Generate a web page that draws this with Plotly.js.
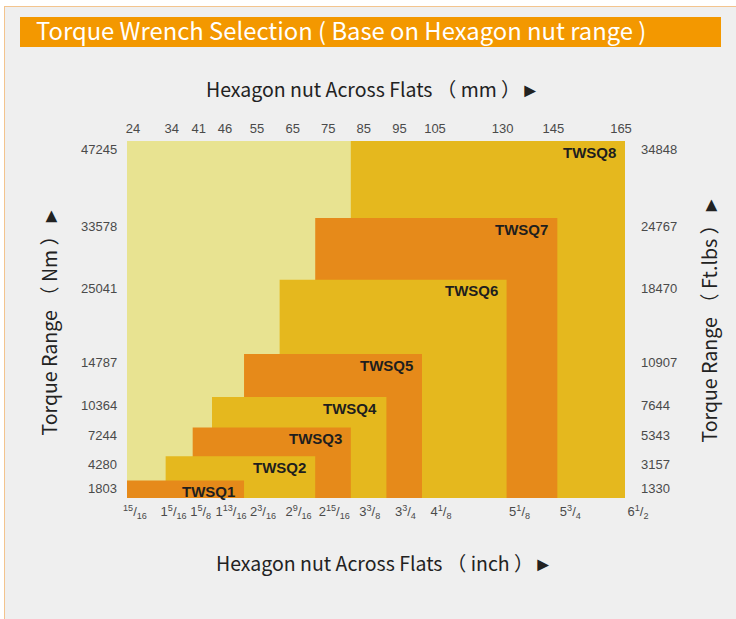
<!DOCTYPE html>
<html><head><meta charset="utf-8">
<script src="https://cdn.plot.ly/plotly-3.0.1.min.js"></script>
<style>
html,body{margin:0;padding:0;background:#ffffff;}
#frame{position:absolute;left:4px;top:6px;width:732px;height:613px;box-sizing:border-box;border-left:1px solid #f3c48e;border-top:1px solid #f3c48e;background:#efefef;}
#bar{position:absolute;left:20px;top:17px;width:701px;height:30px;background:#f39800;}
#chart{position:absolute;left:0;top:0;width:736px;height:619px;}
</style></head><body>
<div id="frame"></div><div id="bar"></div><div id="chart"></div>
<script>
// ---- data ----
const wrenchModels = ['TWSQ1','TWSQ2','TWSQ3','TWSQ4','TWSQ5','TWSQ6','TWSQ7','TWSQ8'];
const hexMinMm = [24, 34, 41, 46, 55, 65, 75, 85];
const hexMaxMm = [55, 75, 85, 95, 105, 130, 145, 165];
const torqueMaxNm = [1803, 4280, 7244, 10364, 14787, 25041, 33578, 47245];
const torqueMaxFtLbs = [1330, 3157, 5343, 7644, 10907, 18470, 24767, 34848];
const mmTickValues = [24, 34, 41, 46, 55, 65, 75, 85, 95, 105, 130, 145, 165];
const mmTickLabels = ['24','34','41','46','55','65','75','85','95','105','130','145','165'];
const inchTickLabels = ['<sup>15</sup>/<sub>16</sub>','1<sup>5</sup>/<sub>16</sub>','1<sup>5</sup>/<sub>8</sub>','1<sup>13</sup>/<sub>16</sub>','2<sup>3</sup>/<sub>16</sub>','2<sup>9</sup>/<sub>16</sub>','2<sup>15</sup>/<sub>16</sub>','3<sup>3</sup>/<sub>8</sub>','3<sup>3</sup>/<sub>4</sub>','4<sup>1</sup>/<sub>8</sub>','5<sup>1</sup>/<sub>8</sub>','5<sup>3</sup>/<sub>4</sub>','6<sup>1</sup>/<sub>2</sub>'];

// ---- styles / layout ----
const colorOrange = '#e68a1a', colorGold = '#e5b81e', colorPale = '#e8e391';
const wrenchColors = [colorOrange, colorGold, colorOrange, colorGold, colorOrange, colorGold, colorOrange, colorGold];
const tickFont = {family: 'Liberation Sans, Arial, sans-serif', size: 13, color: '#4a4a4a'};
const titleFont = {family: 'Noto Sans CJK SC, Noto Sans, sans-serif', size: 19.5, color: '#222'};

// The original drawing uses uneven (piecewise) scales on both axes; each is
// rebuilt here as a broken linear axis made of a few Plotly axis segments.
// x segments: 24-46 mm, 46-105 mm, 105-165 mm (tick indices 0,3,9,12)
const xBreakTick = [0, 3, 9, 12];
const xBounds = [0, 1, 2].map(s => [mmTickValues[xBreakTick[s]], mmTickValues[xBreakTick[s + 1]]]);
const xDomains = [[0, 85/498], [85/498, 295/498], [295/498, 1]];
const xNames = ['x', 'x2', 'x3'], xTopNames = ['x4', 'x5', 'x6'];
const xBottomShift = [8, 19, 13], xTopShift = [6, 13, -4];
const tickSeg = k => (k < xBreakTick[1] ? 0 : (k <= xBreakTick[2] ? 1 : 2));
// y segments: 0-TWSQ5 top, TWSQ5-TWSQ7 top, TWSQ7-TWSQ8 top
const yBreakIdx = [4, 6, 7];
const yBounds = yBreakIdx.map((b, s) => [s === 0 ? 0 : torqueMaxNm[yBreakIdx[s - 1]], torqueMaxNm[b]]);
const yDomains = [[0, 144/357], [144/357, 280/357], [280/357, 1]];
const yNames = ['y', 'y2', 'y3'];
const segOf = (bounds, v) => bounds.findIndex(b => v > b[0] && v <= b[1]);
const axKey = n => (n.length === 1 ? n + 'axis' : n[0] + 'axis' + n.slice(1));

const layout = {
  width: 736, height: 619,
  margin: {l: 127, r: 111, t: 141, b: 121},
  paper_bgcolor: 'rgba(0,0,0,0)', plot_bgcolor: colorPale,
  showlegend: false,
  title: {text: 'Torque Wrench Selection ( Base on Hexagon nut range )',
          font: {family: 'Noto Sans CJK SC, Noto Sans, sans-serif', size: 23.8, color: '#ffffff'},
          xref: 'container', yref: 'container', x: 36/736, xanchor: 'left', y: 1 - 32/619, yanchor: 'middle'},
  shapes: [], annotations: []
};
const plainAxis = {ticks: '', showgrid: false, zeroline: false, showline: false, fixedrange: true};

xNames.forEach((xn, s) => {
  const ks = mmTickValues.map((v, k) => k).filter(k => tickSeg(k) === s);
  layout[axKey(xn)] = Object.assign({}, plainAxis, {domain: xDomains[s], range: xBounds[s], anchor: 'y', side: 'bottom',
    tickmode: 'array', tickvals: ks.map(k => mmTickValues[k]), ticktext: ks.map(k => inchTickLabels[k]), tickangle: 0,
    tickfont: tickFont, ticklabelshift: xBottomShift[s], ticklabelstandoff: 4});
  layout[axKey(xTopNames[s])] = Object.assign({}, plainAxis, {overlaying: xn, range: xBounds[s], anchor: 'y3', side: 'top',
    tickmode: 'array', tickvals: ks.map(k => mmTickValues[k]), ticktext: ks.map(k => mmTickLabels[k]), tickangle: 0,
    tickfont: tickFont, ticklabelshift: xTopShift[s], ticklabelstandoff: 4});
});
yNames.forEach((yn, s) => {
  layout[axKey(yn)] = Object.assign({}, plainAxis, {domain: yDomains[s], range: yBounds[s], anchor: 'x', side: 'left', showticklabels: false});
});

// nested rectangles: widest tier first so smaller tiers sit on top
for (let i = wrenchModels.length - 1; i >= 0; i--) {
  xBounds.forEach((xb, xs) => {
    const x0 = Math.max(hexMinMm[i], xb[0]), x1 = Math.min(hexMaxMm[i], xb[1]);
    if (x1 <= x0) return;
    yBounds.forEach((yb, ys) => {
      const y0 = yb[0], y1 = Math.min(torqueMaxNm[i], yb[1]);
      if (y1 <= y0) return;
      layout.shapes.push({type: 'rect', xref: xNames[xs], yref: yNames[ys], layer: 'below',
        x0: x0, x1: x1, y0: y0, y1: y1, fillcolor: wrenchColors[i], line: {width: 0}});
    });
  });
}
wrenchModels.forEach((name, i) => {
  const xr = xNames[segOf(xBounds, hexMaxMm[i])];
  const yr = yNames[segOf(yBounds, torqueMaxNm[i])];
  layout.annotations.push({text: '<b>' + name + '</b>', x: hexMaxMm[i], y: torqueMaxNm[i],
    xref: xr, yref: yr, xanchor: 'right', yanchor: 'middle', xshift: -7, yshift: -11,
    showarrow: false, font: {family: 'Liberation Sans, Arial, sans-serif', size: 15, color: '#1e1e1e'}});
  // torque labels (Nm left, ft.lbs right), set just under each tier's top edge
  layout.annotations.push({text: String(torqueMaxNm[i]), x: 0, xref: 'paper', y: torqueMaxNm[i], yref: yr,
    xanchor: 'right', yanchor: 'middle', xshift: -8, yshift: -8.5, showarrow: false, font: tickFont});
  layout.annotations.push({text: String(torqueMaxFtLbs[i]), x: 1, xref: 'paper', y: torqueMaxNm[i], yref: yr,
    xanchor: 'left', yanchor: 'middle', xshift: 14, yshift: -8.5, showarrow: false, font: tickFont});
});

// axis titles
layout.annotations.push(
  {text: 'Hexagon nut Across Flats （ mm ）►', xref: 'paper', yref: 'paper', x: 0.5, y: 1, xshift: -3, yshift: 53,
   xanchor: 'center', yanchor: 'middle', showarrow: false, font: titleFont},
  {text: 'Hexagon nut Across Flats （ inch ）►', xref: 'paper', yref: 'paper', x: 0.5, y: 0, xshift: 8, yshift: -64,
   xanchor: 'center', yanchor: 'middle', showarrow: false, font: titleFont},
  {text: 'Torque Range （ Nm ）►', xref: 'paper', yref: 'paper', x: 0, y: 0.5, xshift: -79, yshift: -2,
   xanchor: 'center', yanchor: 'middle', textangle: -90, showarrow: false, font: titleFont},
  {text: 'Torque Range （ Ft.lbs ）►', xref: 'paper', yref: 'paper', x: 1, y: 0.5, xshift: 83, yshift: 0,
   xanchor: 'center', yanchor: 'middle', textangle: -90, showarrow: false, font: titleFont}
);

// invisible traces (mode 'none') so every axis-segment subplot is instantiated
const traces = [];
xNames.forEach((xn, xs) => yNames.forEach((yn, ys) => {
  traces.push({type: 'scatter', mode: 'none', x: [xBounds[xs][0]], y: [yBounds[ys][0]],
               xaxis: xn, yaxis: yn, hoverinfo: 'skip', showlegend: false});
}));
xTopNames.forEach((xn, xs) => {
  traces.push({type: 'scatter', mode: 'none', x: [xBounds[xs][0]], y: [yBounds[2][0]],
               xaxis: xn, yaxis: 'y3', hoverinfo: 'skip', showlegend: false});
});

Plotly.newPlot('chart', traces, layout, {displayModeBar: false, staticPlot: true});
</script>
</body></html>
